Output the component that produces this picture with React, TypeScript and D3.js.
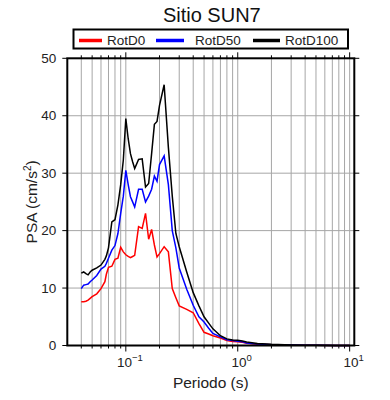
import React, { useRef, useEffect } from 'react';
import * as d3 from 'd3';

// Periods (s) and PSA values (cm/s^2)
const periods = [
  0.04, 0.042, 0.044, 0.046, 0.048, 0.05, 0.055, 0.06, 0.065, 0.067, 0.07, 0.075, 0.08, 0.085,
  0.09, 0.095, 0.1, 0.105, 0.11, 0.115, 0.12, 0.13, 0.14, 0.15, 0.16, 0.17, 0.18, 0.19, 0.2,
  0.22, 0.24, 0.26, 0.28, 0.3, 0.35, 0.4, 0.45, 0.5, 0.55, 0.6, 0.7, 0.8, 0.9, 1.0, 1.1, 1.2,
  1.5, 2, 3, 4, 5, 7.5, 10,
];
const rotD0 = [
  7.6, 7.6, 7.7, 7.9, 8.2, 8.5, 9.0, 9.9, 11.1, 12.4, 13.6, 13.8, 15.0, 15.2,
  17.1, 16.3, 15.8, 15.5, 15.3, 15.5, 15.7, 20.7, 20.4, 23.0, 18.5, 20.2, 17.5, 15.4, 16.0,
  17.2, 16.3, 9.9, 8.3, 6.9, 6.3, 5.7, 3.8, 2.3, 2.0, 1.7, 1.3, 0.85, 0.7, 0.65, 0.55, 0.4,
  0.22, 0.12, 0.06, 0.04, 0.03, 0.015, 0.01,
];
const rotD50 = [
  9.9, 10.5, 10.6, 10.7, 11.1, 11.4, 12.2, 13.3, 13.8, 14.3, 15.2, 16.6, 17.4, 19.5,
  23.0, 26.0, 30.5, 28.0, 25.9, 25.0, 24.1, 27.2, 27.2, 25.0, 26.0, 27.2, 29.5, 28.6, 31.5,
  33.0, 28.0, 20.0, 17.0, 13.5, 9.8, 7.0, 5.0, 4.1, 3.0, 2.1, 1.5, 1.0, 0.85, 0.75, 0.65, 0.45,
  0.25, 0.15, 0.08, 0.05, 0.03, 0.02, 0.01,
];
const rotD100 = [
  12.6, 12.8, 12.5, 12.3, 12.8, 13.1, 13.5, 14.0, 15.0, 15.6, 17.0, 21.5, 21.9, 24.5,
  28.0, 32.3, 39.5, 36.0, 33.4, 32.0, 30.8, 32.4, 32.5, 27.6, 28.2, 33.4, 38.5, 39.0, 41.8,
  45.4, 34.5, 26.0, 19.5, 17.2, 12.8, 9.2, 6.9, 5.0, 3.9, 2.9, 1.7, 1.15, 0.95, 0.9, 0.8, 0.6,
  0.35, 0.2, 0.1, 0.06, 0.04, 0.02, 0.01,
];

const seriesNames = ['RotD0', 'RotD50', 'RotD100'];
const seriesColors = ['#ff0000', '#0000ff', '#000000'];
const yTicks = [0, 10, 20, 30, 40, 50];
const xMajor = [0.1, 1, 10];
const xMajorLabels = ['−1', '0', '1'];

const FONT = '"Liberation Sans", Arial, Helvetica, sans-serif';

const App: React.FC = () => {
  const ref = useRef<SVGSVGElement>(null);

  useEffect(() => {
    if (!ref.current) return;
    const svg = d3.select(ref.current);
    svg.selectAll('*').remove();

    const left = 67.3, right = 354.3, top = 58.3, bottom = 345.5;

    const x = d3.scaleLog().domain([0.03, 11]).range([left, right]);
    const y = d3.scaleLinear().domain([0, 50]).range([bottom, top]);

    // minor + major log ticks inside domain
    const minor: number[] = [];
    [0.01, 0.1, 1, 10].forEach(dec => {
      for (let k = 1; k <= 9; k++) {
        const v = dec * k;
        if (v > 0.0301 && v < 10.9) minor.push(v);
      }
    });

    // grid
    const grid = svg.append('g').attr('stroke', '#a6a6a6').attr('stroke-width', 1);
    grid.selectAll('.gx').data(minor).enter().append('line')
      .attr('x1', d => x(d)).attr('x2', d => x(d))
      .attr('y1', top).attr('y2', bottom);
    grid.selectAll('.gy').data(yTicks.slice(1, -1)).enter().append('line')
      .attr('x1', left).attr('x2', right)
      .attr('y1', d => y(d)).attr('y2', d => y(d));

    // ticks (outward on all sides)
    const ticks = svg.append('g').attr('stroke', '#000').attr('stroke-width', 1);
    minor.forEach(v => {
      const len = xMajor.includes(v) ? 6 : 3;
      ticks.append('line').attr('x1', x(v)).attr('x2', x(v)).attr('y1', top).attr('y2', top - len);
      ticks.append('line').attr('x1', x(v)).attr('x2', x(v)).attr('y1', bottom).attr('y2', bottom + len);
    });
    yTicks.forEach(v => {
      ticks.append('line').attr('x1', left).attr('x2', left - 5).attr('y1', y(v)).attr('y2', y(v));
      ticks.append('line').attr('x1', right).attr('x2', right + 5).attr('y1', y(v)).attr('y2', y(v));
    });

    // curves
    const series = [rotD0, rotD50, rotD100];
    const line = d3.line<number>()
      .x((_, i) => x(periods[i]))
      .y(d => y(d));
    series.forEach((vals, i) => {
      svg.append('path')
        .datum(vals)
        .attr('d', line)
        .attr('fill', 'none')
        .attr('stroke', seriesColors[i])
        .attr('stroke-width', 1.5)
        .attr('stroke-linejoin', 'miter');
    });

    // frame
    svg.append('rect')
      .attr('x', left).attr('y', top)
      .attr('width', right - left).attr('height', bottom - top)
      .attr('fill', 'none').attr('stroke', '#000').attr('stroke-width', 2);

    // y tick labels
    svg.append('g').selectAll('text').data(yTicks).enter().append('text')
      .attr('x', left - 11).attr('y', d => y(d) + 4.5)
      .attr('text-anchor', 'end')
      .style('font-family', FONT).style('font-size', '13.5px').style('fill', '#222')
      .text(d => d);

    // x tick labels with exponents
    xMajor.forEach((v, i) => {
      const t = svg.append('text')
        .attr('x', x(v) + 4).attr('y', 367)
        .attr('text-anchor', 'middle')
        .style('font-family', FONT).style('font-size', '13.5px').style('fill', '#222');
      t.append('tspan').text('10');
      t.append('tspan').attr('dy', -6).style('font-size', '9.5px').text(xMajorLabels[i]);
    });

    // axis titles
    svg.append('text')
      .attr('x', (left + right) / 2).attr('y', 388)
      .attr('text-anchor', 'middle')
      .style('font-family', FONT).style('font-size', '15.5px').style('fill', '#222')
      .text('Periodo (s)');

    const yl = svg.append('text')
      .attr('transform', `translate(37,${(top + bottom) / 2}) rotate(-90)`)
      .attr('text-anchor', 'middle')
      .style('font-family', FONT).style('font-size', '15.5px').style('fill', '#222');
    yl.append('tspan').text('PSA (cm/s');
    yl.append('tspan').attr('dy', -6).style('font-size', '10px').text('2');
    yl.append('tspan').attr('dy', 6).text(')');

    // title
    svg.append('text')
      .attr('x', (left + right) / 2 + 1).attr('y', 22)
      .attr('text-anchor', 'middle')
      .style('font-family', FONT).style('font-size', '20px').style('fill', '#111')
      .text('Sitio SUN7');

    // legend
    const lg = svg.append('g');
    lg.append('rect')
      .attr('x', 73.5).attr('y', 29.5).attr('width', 274.5).attr('height', 19)
      .attr('fill', '#fff').attr('stroke', '#000').attr('stroke-width', 2);
    const lineX = [79, 156, 253];
    const lineW = [23, 28, 27];
    const textX = [107, 195, 285];
    seriesNames.forEach((name, i) => {
      lg.append('line')
        .attr('x1', lineX[i]).attr('x2', lineX[i] + lineW[i])
        .attr('y1', 40.5).attr('y2', 40.5)
        .attr('stroke', seriesColors[i]).attr('stroke-width', 3.5);
      lg.append('text')
        .attr('x', textX[i]).attr('y', 45)
        .style('font-family', FONT).style('font-size', '13.5px').style('fill', '#222')
        .text(name);
    });
  }, []);

  return (
    <svg
      ref={ref}
      width={390}
      height={400}
      style={{ position: 'absolute', left: 0, top: 0, background: '#fff' }}
    />
  );
};

export default App;
